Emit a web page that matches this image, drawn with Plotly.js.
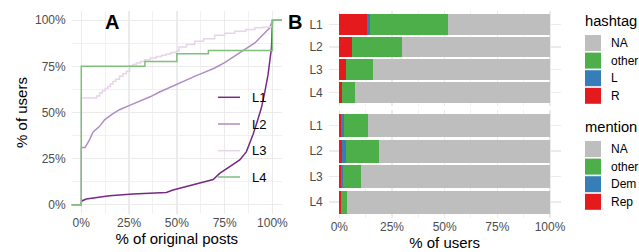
<!DOCTYPE html>
<html>
<head>
<meta charset="utf-8">
<script src="https://cdn.plot.ly/plotly-3.0.1.min.js"></script>
<style>
html,body{margin:0;padding:0;background:#fff;}
#chart{width:639px;height:252px;}
</style>
</head>
<body>
<div id="chart"></div>
<script>
// ---------- Panel A data (ECDF curves) ----------
const lineNames = ['L1', 'L2', 'L3', 'L4'];
const lineColors = ['#762A83', '#AF8DC3', '#E7D4E8', '#7FBF7B'];

const L1_x = [-0.1, 0, 0, 0.005, 0.026, 0.079, 0.148, 0.27, 0.34, 0.445, 0.48, 0.55, 0.62, 0.69, 0.724, 0.776, 0.829, 0.864, 0.899, 0.92, 0.942, 0.96, 0.977, 0.995, 1.0, 1.1];
const L1_y = [0, 0, 0.015, 0.022, 0.031, 0.040, 0.049, 0.058, 0.062, 0.067, 0.080, 0.098, 0.12, 0.137, 0.17, 0.207, 0.243, 0.288, 0.382, 0.45, 0.524, 0.61, 0.705, 0.85, 1.0, 1.0];

const L2_x = [-0.1, 0, 0, 0.02, 0.043, 0.061, 0.096, 0.122, 0.16, 0.2, 0.25, 0.305, 0.36, 0.41, 0.46, 0.515, 0.593, 0.65, 0.698, 0.75, 0.803, 0.85, 0.908, 0.95, 0.986, 1.0, 1.1];
const L2_y = [0, 0, 0.31, 0.31, 0.351, 0.393, 0.425, 0.46, 0.49, 0.515, 0.537, 0.56, 0.585, 0.611, 0.635, 0.66, 0.696, 0.72, 0.741, 0.77, 0.804, 0.838, 0.877, 0.92, 0.959, 1.0, 1.0];

const L3_x = [-0.1, 0, 0.07, 0.08, 0.096, 0.11, 0.125, 0.139, 0.152, 0.166, 0.18, 0.2, 0.218, 0.236, 0.253, 0.27, 0.288, 0.31, 0.331, 0.36, 0.393, 0.42, 0.445, 0.47, 0.497, 0.511, 0.55, 0.593, 0.64, 0.698, 0.75, 0.803, 0.86, 0.908, 0.95, 0.986, 1.0, 1.1];
const L3_y = [0, 0.578, 0.578, 0.59, 0.605, 0.618, 0.63, 0.641, 0.655, 0.668, 0.68, 0.696, 0.71, 0.723, 0.75, 0.76, 0.768, 0.777, 0.786, 0.795, 0.804, 0.81, 0.817, 0.825, 0.832, 0.855, 0.868, 0.886, 0.9, 0.918, 0.93, 0.94, 0.95, 0.959, 0.962, 0.964, 1.0, 1.0];

const L4_x = [-0.1, 0, 0.333, 0.5, 0.665, 1.0, 1.1];
const L4_y = [0, 0.75, 0.777, 0.819, 0.836, 1.0, 1.0];

// ---------- Panel B data (stacked shares) ----------
const categories = ['L1', 'L2', 'L3', 'L4'];
const hashtagLevels = ['R', 'L', 'other', 'NA'];      // stacking order (left to right)
const hashtag_R     = [0.133, 0.060, 0.030, 0.013];
const hashtag_L     = [0.013, 0.000, 0.000, 0.000];
const hashtag_other = [0.370, 0.238, 0.130, 0.062];
const hashtag_NA    = [0.484, 0.702, 0.840, 0.925];

const mentionLevels = ['Rep', 'Dem', 'other', 'NA'];
const mention_Rep   = [0.008, 0.013, 0.008, 0.008];
const mention_Dem   = [0.014, 0.019, 0.009, 0.002];
const mention_other = [0.114, 0.156, 0.086, 0.026];
const mention_NA    = [0.864, 0.812, 0.897, 0.964];

const levelColors = ['#E41A1C', '#377EB8', '#4DAF4A', '#BEBEBE'];
const pctTicks = [0, 0.25, 0.5, 0.75, 1];
const pctLabels = ['0%', '25%', '50%', '75%', '100%'];

// ---------- helpers ----------
const W = 639, H = 252;
const px = x => x / W;
const py = y => 1 - y / H;
const FONT = 'Liberation Sans, Arial, sans-serif';
const GRID = '#EBEBEB';

const traces = [];
const lx = [L1_x, L2_x, L3_x, L4_x], ly = [L1_y, L2_y, L3_y, L4_y];
const lshape = ['linear', 'linear', 'hv', 'hv'];
for (let i = 0; i < 4; i++) {
  traces.push({
    type: 'scatter', mode: 'lines', name: lineNames[i],
    x: lx[i], y: ly[i], xaxis: 'x', yaxis: 'y',
    line: {color: lineColors[i], width: 1.5, shape: lshape[i]},
    showlegend: false, hoverinfo: 'skip'
  });
}
const hashtagVals = [hashtag_R, hashtag_L, hashtag_other, hashtag_NA];
const mentionVals = [mention_Rep, mention_Dem, mention_other, mention_NA];
for (let i = 0; i < 4; i++) {
  traces.push({
    type: 'bar', orientation: 'h', name: hashtagLevels[i],
    x: hashtagVals[i], y: categories, xaxis: 'x2', yaxis: 'y2',
    marker: {color: levelColors[i], line: {width: 0}}, width: 0.9,
    showlegend: false
  });
}
for (let i = 0; i < 4; i++) {
  traces.push({
    type: 'bar', orientation: 'h', name: mentionLevels[i],
    x: mentionVals[i], y: categories, xaxis: 'x3', yaxis: 'y3',
    marker: {color: levelColors[i], line: {width: 0}}, width: 0.9,
    showlegend: false
  });
}

const tickFont = {family: FONT, size: 12, color: '#4D4D4D'};
const titleFont = {family: FONT, size: 15, color: '#000'};
const pctAxis = (extra) => Object.assign({
  range: [-0.05, 1.05], tickvals: pctTicks, ticktext: pctLabels,
  showgrid: true, gridcolor: GRID, gridwidth: 1.4, zeroline: false,
  showline: false, ticks: '', tickfont: tickFont, automargin: false, fixedrange: true,
  minor: {dtick: 0.125, tick0: 0, showgrid: true, gridcolor: GRID, gridwidth: 0.7}
}, extra);
const catAxis = (extra) => Object.assign({
  type: 'category', categoryorder: 'array', categoryarray: categories,
  range: [3.6, -0.6], showgrid: true, gridcolor: GRID, gridwidth: 1.4,
  zeroline: false, showline: false, ticks: '', tickfont: tickFont,
  ticklabelstandoff: 5, automargin: false, fixedrange: true
}, extra);

const shapes = [], annotations = [];

// Panel letters
annotations.push({xref: 'paper', yref: 'paper', x: px(103), y: py(22), xanchor: 'left', yanchor: 'middle',
  text: '<b>A</b>', showarrow: false, font: {family: FONT, size: 20, color: '#000'}});
annotations.push({xref: 'paper', yref: 'paper', x: px(286), y: py(22), xanchor: 'left', yanchor: 'middle',
  text: '<b>B</b>', showarrow: false, font: {family: FONT, size: 20, color: '#000'}});

// Panel A legend (inside)
const legA_y = [97.3, 124, 150.7, 177];
for (let i = 0; i < 4; i++) {
  shapes.push({type: 'line', xref: 'paper', yref: 'paper', x0: px(218), x1: px(240), y0: py(legA_y[i]), y1: py(legA_y[i]),
    line: {color: lineColors[i], width: 1.5}});
  annotations.push({xref: 'paper', yref: 'paper', x: px(249.5), y: py(legA_y[i]), xanchor: 'left', yanchor: 'middle',
    text: lineNames[i], showarrow: false, font: {family: FONT, size: 13, color: '#000'}});
}

// Panel B legends (hashtag, mention); listed NA, other, L/Dem, R/Rep
function addLegend(title, titleY, levels, firstKeyY) {
  annotations.push({xref: 'paper', yref: 'paper', x: px(582.5), y: py(titleY), xanchor: 'left', yanchor: 'middle',
    text: title, showarrow: false, font: {family: FONT, size: 14.7, color: '#000'}});
  for (let j = 0; j < 4; j++) {
    const idx = 3 - j;
    const top = firstKeyY + j * 17.6;
    shapes.push({type: 'rect', xref: 'paper', yref: 'paper', x0: px(585), x1: px(601), y0: py(top), y1: py(top + 16),
      fillcolor: levelColors[idx], line: {width: 0}});
    annotations.push({xref: 'paper', yref: 'paper', x: px(608.5), y: py(top + 8), xanchor: 'left', yanchor: 'middle',
      text: levels[idx], showarrow: false, font: {family: FONT, size: 12, color: '#000'}});
  }
}
addLegend('hashtag', 21, hashtagLevels, 35);
addLegend('mention', 127, mentionLevels, 141);

const layout = {
  width: W, height: H, margin: {l: 0, r: 0, t: 0, b: 0},
  paper_bgcolor: '#fff', plot_bgcolor: '#fff',
  showlegend: false, barmode: 'stack', bargap: 0,
  font: {family: FONT},
  xaxis: pctAxis({domain: [px(71.7), px(282)], anchor: 'y',
    title: {text: '% of original posts', font: titleFont, standoff: 4}}),
  yaxis: pctAxis({domain: [py(214), py(11)], anchor: 'x', ticklabelstandoff: 5,
    title: {text: '% of users', font: titleFont, standoff: 3}}),
  xaxis2: pctAxis({domain: [px(328.8), px(560.5)], anchor: 'y2', showticklabels: false}),
  yaxis2: catAxis({domain: [py(105.9), py(10.7)], anchor: 'x2'}),
  xaxis3: pctAxis({domain: [px(328.8), px(560.5)], anchor: 'y3',
    title: {text: '% of users', font: titleFont, standoff: 4}}),
  yaxis3: catAxis({domain: [py(217.5), py(110.3)], anchor: 'x3'}),
  shapes: shapes, annotations: annotations
};

Plotly.newPlot('chart', traces, layout, {staticPlot: true, displayModeBar: false});
</script>
</body>
</html>
